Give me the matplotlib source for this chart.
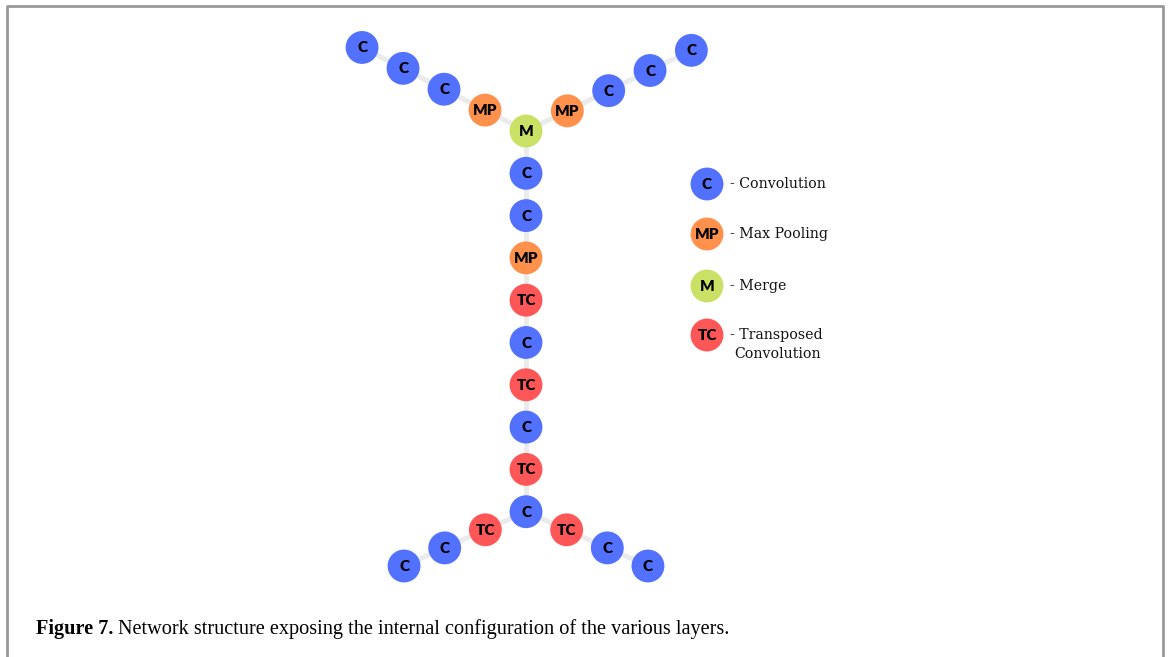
import numpy as np
import matplotlib
matplotlib.use("Agg")
from matplotlib import pyplot as plt

# layer types along each branch of the network
trunk = ["M", "C", "C", "MP", "TC", "C", "TC", "C", "TC", "C"]
top_left = ["MP", "C", "C", "C"]
top_right = ["MP", "C", "C", "C"]
bottom_left = ["TC", "C", "C"]
bottom_right = ["TC", "C", "C"]

legend_keys = ["C", "MP", "M", "TC"]
legend_names = ["- Convolution", "- Max Pooling", "- Merge", "- Transposed"]

colors = {"C": "#5271FF", "MP": "#FF914D", "M": "#C9E265", "TC": "#FF5757"}

fig = plt.figure(figsize=(11.7, 6.57), dpi=100)
ax = fig.add_axes([0, 0, 1, 1])
ax.set_xlim(0, 1170)
ax.set_ylim(657, 0)
ax.axis("off")

# layout: vertical trunk plus four diagonal arms
x0, y0 = 526, 131
vstep = 42.3
trunk_pos = [(x0, y0 + i * vstep) for i in range(len(trunk))]
bx, by = trunk_pos[-1]


def arm(start, n, ang, sx, step):
    a = np.deg2rad(ang)
    return [(start[0] + sx * step * (i + 1) * np.cos(a),
             start[1] + step * (i + 1) * np.sin(a)) for i in range(n)]


branches = [
    (trunk, trunk_pos),
    (top_left, arm((x0, y0), len(top_left), -27, -1, 46)),
    (top_right, arm((x0, y0), len(top_right), -26, 1, 46)),
    (bottom_left, arm((bx, by), len(bottom_left), 24, -1, 44.5)),
    (bottom_right, arm((bx, by), len(bottom_right), 24, 1, 44.5)),
]

edge_kw = dict(color="#EBEBEB", lw=3.6, zorder=1, solid_capstyle="butt")
for i, (labels, pos) in enumerate(branches):
    pts = pos if i == 0 else [(x0, y0) if i < 3 else (bx, by)] + pos
    xs, ys = zip(*pts)
    ax.plot(xs, ys, **edge_kw)

node_font = dict(family="Lato", fontweight="heavy", fontsize=11,
                 ha="center", va="center", color="black", zorder=3)


def node(x, y, key):
    ax.scatter([x], [y], s=560, color=colors[key], edgecolors="none", zorder=2)
    ax.text(x, y + 0.5, key, **node_font)


for labels, pos in branches:
    for key, (x, y) in zip(labels, pos):
        node(x, y, key)

# legend
ly = [184, 234, 286, 335]
for key, name, y in zip(legend_keys, legend_names, ly):
    node(707, y, key)
    ax.text(730, y, name, family="DejaVu Serif", fontsize=10.2,
            ha="left", va="center", color="#111111")
ax.text(734, 354, "Convolution", family="DejaVu Serif", fontsize=10.2,
        ha="left", va="center", color="#111111")

# frame
ax.plot([7, 7, 1163, 1163], [657, 5.5, 5.5, 657], color="#999999", lw=2, zorder=0)

# caption
ax.text(36, 629, "Figure 7.", family="Liberation Serif", fontweight="bold",
        fontsize=14.6, ha="left", va="center")
ax.text(118, 629, "Network structure exposing the internal configuration of the various layers.",
        family="Liberation Serif", fontsize=14.6, ha="left", va="center")

fig.savefig("out.png", dpi=100)
